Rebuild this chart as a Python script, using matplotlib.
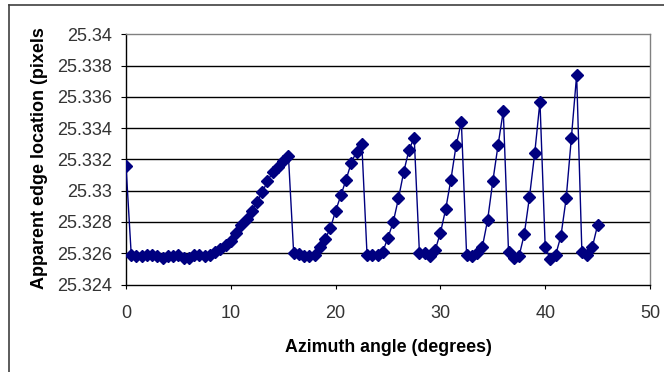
import matplotlib
matplotlib.use("Agg")
import matplotlib.pyplot as plt
from matplotlib.lines import Line2D

plt.rcParams['font.family'] = ['Liberation Sans', 'DejaVu Sans']

angles = [0.0, 0.5, 1.0, 1.5, 2.0, 2.5, 3.0, 3.5, 4.0, 4.5,
          5.0, 5.5, 6.0, 6.5, 7.0, 7.5, 8.0, 8.5, 9.0, 9.5,
          10.0, 10.5, 11.0, 11.5, 12.0, 12.5, 13.0, 13.5, 14.0, 14.5,
          15.0, 15.5, 16.0, 16.5, 17.0, 17.5, 18.0, 18.5, 19.0, 19.5,
          20.0, 20.5, 21.0, 21.5, 22.0, 22.5, 23.0, 23.5, 24.0, 24.5,
          25.0, 25.5, 26.0, 26.5, 27.0, 27.5, 28.0, 28.5, 29.0, 29.5,
          30.0, 30.5, 31.0, 31.5, 32.0, 32.5, 33.0, 33.5, 34.0, 34.5,
          35.0, 35.5, 36.0, 36.5, 37.0, 37.5, 38.0, 38.5, 39.0, 39.5,
          40.0, 40.5, 41.0, 41.5, 42.0, 42.5, 43.0, 43.5, 44.0, 44.5,
          45.0]

edge_location = [25.3316, 25.3259, 25.3258, 25.3258, 25.3259, 25.3259, 25.3258, 25.3257, 25.3258, 25.3258,
                 25.3259, 25.3257, 25.3257, 25.3259, 25.3259, 25.3258, 25.3259, 25.3261, 25.3263, 25.3265,
                 25.3268, 25.3273, 25.3278, 25.3282, 25.3287, 25.3293, 25.3299, 25.3306, 25.3312, 25.3315,
                 25.3319, 25.3322, 25.3260, 25.32595, 25.3258, 25.3258, 25.3259, 25.3264, 25.3269, 25.3276,
                 25.3287, 25.3297, 25.3307, 25.3318, 25.3325, 25.3330, 25.3259, 25.3259, 25.3259, 25.3261,
                 25.3270, 25.3280, 25.3295, 25.3312, 25.3326, 25.3334, 25.3260, 25.3260, 25.3258, 25.3262,
                 25.3273, 25.3288, 25.3307, 25.3329, 25.3344, 25.3259, 25.3258, 25.3260, 25.3264, 25.3281,
                 25.3306, 25.3329, 25.3351, 25.3261, 25.3257, 25.3258, 25.3272, 25.3296, 25.3324, 25.3357,
                 25.3264, 25.3256, 25.3259, 25.3271, 25.3295, 25.3334, 25.3374, 25.3261, 25.3259, 25.3264,
                 25.3278]

x_ticks = [0, 10, 20, 30, 40, 50]
y_ticks = [25.324, 25.326, 25.328, 25.33, 25.332, 25.334, 25.336, 25.338, 25.34]
y_tick_labels = ['25.324', '25.326', '25.328', '25.33', '25.332', '25.334', '25.336', '25.338', '25.34']

W, H = 664, 372
fig = plt.figure(figsize=(W / 100, H / 100), dpi=100)
fig.patch.set_facecolor('white')

left, right, top, bottom = 126, 650, 34.3, 284.5
ax = fig.add_axes([left / W, 1 - bottom / H, (right - left) / W, (bottom - top) / H])

ax.set_xlim(0, 50)
ax.set_ylim(25.324, 25.34)
ax.set_xticks(x_ticks)
ax.set_xticklabels([str(t) for t in x_ticks])
ax.set_yticks(y_ticks)
ax.set_yticklabels(y_tick_labels)

for v in y_ticks[1:-1]:
    ax.axhline(v, color='black', lw=1.0, zorder=1)

ax.plot(angles, edge_location, color='#000080', lw=1.0, marker='D',
        markersize=6, markerfacecolor='#000080', markeredgecolor='#000080', zorder=3)

for s in ['top', 'right']:
    ax.spines[s].set_color('#808080')
    ax.spines[s].set_linewidth(1.0)
for s in ['left', 'bottom']:
    ax.spines[s].set_color('#000000')
    ax.spines[s].set_linewidth(1.0)

ax.tick_params(axis='y', direction='out', length=3.6, width=0.8, pad=6.5,
               labelsize=13, labelcolor='#333333')
ax.tick_params(axis='x', direction='out', length=3.0, width=0.8, pad=12.0,
               labelsize=13, labelcolor='#333333')

fig.text(388 / W, 1 - 347 / H, 'Azimuth angle (degrees)', ha='center', va='center',
         fontsize=12.8, fontweight='bold')
fig.text(40 / W, 1 - 158 / H, 'Apparent edge location (pixels', ha='center', va='center',
         rotation=90, fontsize=13, fontweight='bold')

fig.add_artist(Line2D([9 / W, 9 / W], [0, 1 - 5 / H], color='#404040', lw=1.2))
fig.add_artist(Line2D([9 / W, 1], [1 - 5 / H, 1 - 5 / H], color='#404040', lw=1.2))

fig.savefig('out.png', dpi=100)
